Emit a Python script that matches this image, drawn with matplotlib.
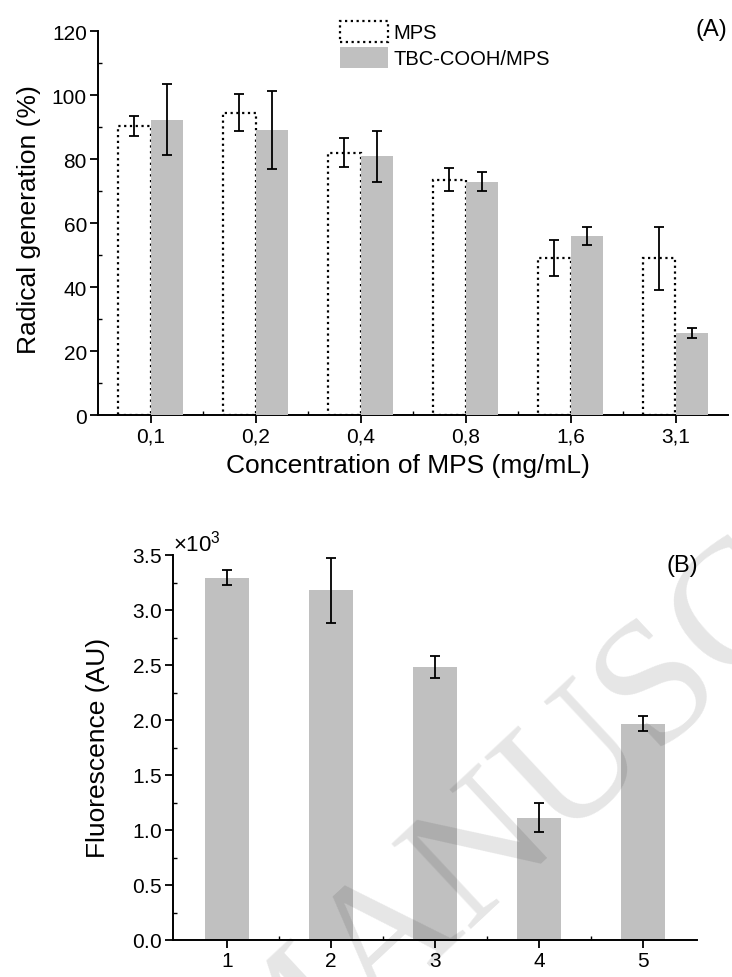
import matplotlib
matplotlib.use("Agg")
import matplotlib.pyplot as plt
from matplotlib.ticker import MultipleLocator, FixedLocator, ScalarFormatter

plt.rcParams['font.family'] = ['Liberation Sans', 'DejaVu Sans']
plt.rcParams['mathtext.fontset'] = 'custom'
plt.rcParams['mathtext.rm'] = 'Liberation Sans'
plt.rcParams['mathtext.it'] = 'Liberation Sans:italic'

# ---- Data (A) ----
conc_labels = ['0,1', '0,2', '0,4', '0,8', '1,6', '3,1']
mps_mean = [90.3, 94.5, 82.0, 73.5, 49.0, 49.0]
mps_err = [3.0, 5.8, 4.5, 3.6, 5.7, 9.8]
tbc_mean = [92.3, 89.2, 80.8, 72.9, 56.0, 25.6]
tbc_err = [11.1, 12.2, 7.9, 3.0, 2.8, 1.5]

# ---- Data (B) ----
sample_labels = ['1', '2', '3', '4', '5']
fluo_mean = [3295, 3178, 2482, 1113, 1965]
fluo_err = [68, 298, 103, 133, 67]

W, H = 732, 978
fig = plt.figure(figsize=(W / 100, H / 100), dpi=100)

bar_gray = '#c0c0c0'
tick_fs = 15
label_fs = 19

# ---------------- Panel A ----------------
ax1 = fig.add_axes([98 / W, 1 - 416 / H, 630 / W, 384 / H])
x = list(range(len(conc_labels)))
bw = 0.31
xm = [i - bw / 2 for i in x]
xt = [i + bw / 2 for i in x]
b1 = ax1.bar(xm, mps_mean, width=bw, facecolor='white', edgecolor='black',
             linewidth=1.6, linestyle=(0, (1, 1.6)), zorder=2, label='MPS')
ax1.errorbar(xm, mps_mean, yerr=mps_err, fmt='none', ecolor='black',
             elinewidth=1.3, capsize=3.5, capthick=1.3, zorder=4)
b2 = ax1.bar(xt, tbc_mean, width=bw, facecolor=bar_gray, edgecolor='none',
             zorder=3, label='TBC-COOH/MPS')
ax1.errorbar(xt, tbc_mean, yerr=tbc_err, fmt='none', ecolor='black',
             elinewidth=1.3, capsize=3.5, capthick=1.3, zorder=4)

ax1.set_xlim(-0.5, len(conc_labels) - 0.5)
ax1.set_ylim(0, 120)
ax1.set_xticks(x)
ax1.set_xticklabels(conc_labels)
ax1.xaxis.set_minor_locator(FixedLocator([i + 0.5 for i in x[:-1]]))
ax1.yaxis.set_major_locator(MultipleLocator(20))
ax1.yaxis.set_minor_locator(MultipleLocator(10))
ax1.set_xlabel('Concentration of MPS (mg/mL)', fontsize=label_fs)
ax1.set_ylabel('Radical generation (%)', fontsize=label_fs)

# ---------------- Panel B ----------------
ax2 = fig.add_axes([173 / W, 1 - 941 / H, 524 / W, 385 / H])
xs = list(range(1, len(sample_labels) + 1))
ax2.bar(xs, fluo_mean, width=0.42, facecolor=bar_gray, edgecolor='none', zorder=2)
ax2.errorbar(xs, fluo_mean, yerr=fluo_err, fmt='none', ecolor='black',
             elinewidth=1.3, capsize=3.5, capthick=1.3, zorder=4)
ax2.set_xlim(0.48, len(sample_labels) + 0.52)
ax2.set_ylim(0, 3500)
ax2.set_xticks(xs)
ax2.set_xticklabels(sample_labels)
ax2.xaxis.set_minor_locator(FixedLocator([i + 0.5 for i in xs[:-1]]))
ax2.yaxis.set_major_locator(MultipleLocator(500))
ax2.yaxis.set_minor_locator(MultipleLocator(250))
fmt = ScalarFormatter(useMathText=True)
fmt.set_powerlimits((0, 0))
ax2.yaxis.set_major_formatter(fmt)
ax2.yaxis.get_offset_text().set_fontsize(16)
ax2.set_ylabel('Fluorescence (AU)', fontsize=label_fs)

for ax in (ax1, ax2):
    for s in ('top', 'right'):
        ax.spines[s].set_visible(False)
    for s in ('left', 'bottom'):
        ax.spines[s].set_linewidth(1.4)
    ax.tick_params(which='major', direction='out', length=6, width=1.3,
                   labelsize=tick_fs, pad=2)
    ax.tick_params(which='minor', direction='in', length=3, width=1.0)

ax1.yaxis.set_label_coords(41 / W, 1 - 220 / H, transform=fig.transFigure)
ax1.xaxis.set_label_coords(408 / W, 1 - 454 / H, transform=fig.transFigure)
ax2.yaxis.set_label_coords(110 / W, 1 - 748 / H, transform=fig.transFigure)

# Legend
leg = ax1.legend(handles=[b1, b2], loc='upper left',
                 bbox_to_anchor=(330 / W, 1 - 12 / H),
                 bbox_transform=fig.transFigure, frameon=False,
                 fontsize=14.5, borderpad=0, handlelength=2.4,
                 handleheight=1.2, handletextpad=0.25, labelspacing=0.25)

# Panel labels
fig.text(727 / W, 1 - 30 / H, '(A)', fontsize=17, ha='right', va='center')
fig.text(698 / W, 1 - 566 / H, '(B)', fontsize=17, ha='right', va='center')

# Watermark
fig.text(258 / W, 1 - 1124 / H, 'MANUSCRIPT', fontsize=128,
         family='Liberation Serif', color='black', alpha=0.1,
         rotation=43, rotation_mode='anchor', ha='left', va='baseline',
         zorder=10)

fig.savefig('out.png', dpi=100)
